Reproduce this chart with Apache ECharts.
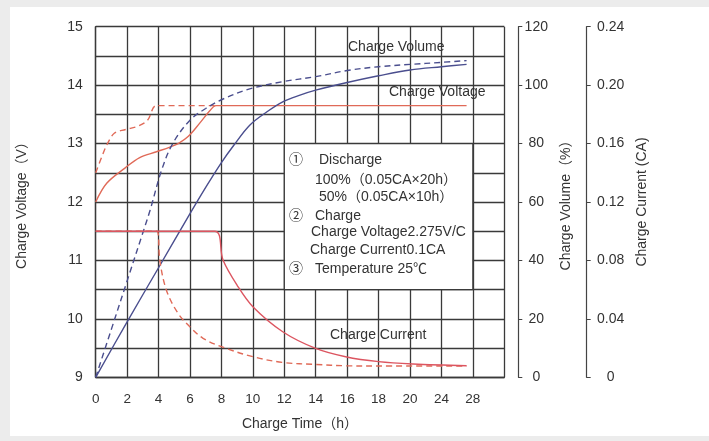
<!DOCTYPE html>
<html>
<head>
<meta charset="utf-8">
<script src="https://cdn.jsdelivr.net/npm/echarts@6/dist/echarts.min.js"></script>
<style>
html,body{margin:0;padding:0;background:#ececec;width:709px;height:441px;overflow:hidden;}
#c{position:absolute;left:10px;top:7px;width:699px;height:429px;background:#fff;}
</style>
</head>
<body>
<div id="c"></div>
<script>
// ---- tick labels ----
const xTickLabels = ['0','2','4','6','8','10','12','14','16','18','20','24','28',''];

// ---- Charge voltage (V) ----
// after 100% discharge (solid)
const voltFullT = [0, 0.7, 1.86, 2.8, 3.87, 4.72, 5.25, 5.88, 6.62, 7.26, 7.65, 9, 23.6];
const voltFull  = [12.0, 12.32, 12.58, 12.76, 12.86, 12.94, 13.0, 13.12, 13.35, 13.56, 13.65, 13.65, 13.65];
// after 50% discharge (dashed)
const voltHalfT = [0, 0.5, 0.75, 1.2, 1.9, 2.7, 3.3, 3.85, 5, 7.65];
const voltHalf  = [12.5, 12.85, 13.0, 13.18, 13.24, 13.3, 13.4, 13.65, 13.65, 13.65];

// ---- Charge volume (%) ----
const volFullT = [0, 2, 4, 6, 7, 8, 8.8, 9.8, 10.9, 11.9, 13, 14, 16, 18, 20, 22, 23.6];
const volFull  = [0, 19, 37.5, 56, 65, 73.5, 79.5, 86.3, 90.9, 94.3, 96.6, 98.3, 100.9, 103.2, 105.2, 106.3, 107.1];
const volHalfT = [0, 1, 2, 3, 3.45, 4.2, 4.9, 6, 7, 8, 9.8, 11.9, 14, 16, 18, 20, 22, 23.6];
const volHalf  = [0, 16.5, 33, 49.5, 57, 71, 80, 88, 92, 95, 98.7, 101.2, 102.9, 105, 106.3, 107.1, 107.8, 108.4];

// ---- Charge current (CA) ----
const curFullT = [0, 7.57, 8.1, 9.0, 10.0, 11.9, 14.0, 15.9, 18.0, 20.2, 23.6];
const curFull  = [0.1, 0.1, 0.0803, 0.063, 0.0483, 0.0312, 0.0198, 0.0141, 0.0107, 0.0091, 0.0079];
const curHalfT = [0, 3.89, 4.08, 4.51, 5.24, 5.99, 6.83, 8.0, 10.0, 11.96, 14.0, 15.94, 18.05, 23.6];
const curHalf  = [0.1, 0.1, 0.0798, 0.0593, 0.0438, 0.0346, 0.0267, 0.021, 0.0141, 0.0101, 0.0088, 0.0079, 0.0077, 0.0077];

// ---- note box range (data units) ----
const noteBoxX = [12, 24];
const noteBoxY = [10.5, 13];

const FONT = "'Liberation Sans', Arial, 'Noto Sans CJK SC', sans-serif";
const TXT = '#333';
const GRIDC = '#3a3a3a';
const RED = '#e06a58';
const REDC = '#dc5560';
const BLUE = '#4a4e8e';

const pairs = (t, v) => t.map((x, i) => [x, v[i]]);

function lineSeries(name, t, v, yIdx, color, dashed, z) {
  return {
    name, type: 'line', xAxisIndex: 0, yAxisIndex: yIdx,
    data: pairs(t, v), showSymbol: false, symbol: 'none',
    smooth: 0.35, z: z || 3,
    lineStyle: { color, width: 1.4, type: dashed ? [6, 4] : 'solid' },
    emphasis: { disabled: true }
  };
}

const chart = echarts.init(document.getElementById('c'), null, { renderer: 'canvas' });

const texts = [
  ['Charge Volume', 338, 40],
  ['Charge Voltage', 379, 85],
  ['Charge Current', 320, 328],
  ['①', 279, 153], ['Discharge', 309, 153],
  ['100%（0.05CA×20h）', 305, 173],
  ['50%（0.05CA×10h）', 309, 190],
  ['②', 279, 209], ['Charge', 305, 209],
  ['Charge Voltage2.275V/C', 301, 225],
  ['Charge Current0.1CA', 300, 243],
  ['③', 279, 262], ['Temperature 25℃', 305, 262]
];

chart.setOption({
  animation: false,
  textStyle: { fontFamily: FONT },
  grid: { left: 85.7, top: 19.7, right: 204.7, bottom: 58.7, containLabel: false, outerBoundsMode: 'none' },
  xAxis: {
    type: 'value', min: 0, max: 26, interval: 2,
    name: 'Charge Time（h）', nameLocation: 'middle', nameGap: 40,
    nameTextStyle: { fontSize: 14, color: TXT, fontFamily: FONT },
    axisLine: { show: true, lineStyle: { color: GRIDC, width: 1.3 } },
    axisTick: { show: false },
    axisLabel: { fontSize: 13.5, color: TXT, margin: 15, fontFamily: FONT,
      formatter: v => xTickLabels[Math.round(v / 2)] },
    splitLine: { show: true, lineStyle: { color: GRIDC, width: 1.3 } }
  },
  yAxis: [
    {
      type: 'value', min: 9, max: 15, interval: 0.5, position: 'left',
      name: 'Charge Voltage（V）', nameLocation: 'middle', nameGap: 67, nameRotate: 90,
      nameTextStyle: { fontSize: 14, color: TXT, fontFamily: FONT },
      axisLine: { show: true, lineStyle: { color: GRIDC, width: 1.3 } },
      axisTick: { show: false },
      axisLabel: { fontSize: 14, color: TXT, margin: 13, fontFamily: FONT,
        formatter: v => (Math.abs(v - Math.round(v)) < 1e-6 ? String(Math.round(v)) : '') },
      splitLine: { show: true, lineStyle: { color: GRIDC, width: 1.3 } }
    },
    {
      type: 'value', min: 0, max: 120, interval: 20, position: 'right', offset: 14,
      name: 'Charge Volume（%）', nameLocation: 'middle', nameGap: 34, nameRotate: 90,
      nameTextStyle: { fontSize: 14, color: TXT, fontFamily: FONT },
      axisLine: { show: true, lineStyle: { color: '#444', width: 1.2 } },
      axisTick: { show: true, length: 4, lineStyle: { color: '#444', width: 1 } },
      axisLabel: { fontSize: 14, color: TXT, margin: 18, align: 'center', fontFamily: FONT },
      splitLine: { show: false }
    },
    {
      type: 'value', min: 0, max: 0.24, interval: 0.04, position: 'right', offset: 82.4,
      name: 'Charge Current (CA)', nameLocation: 'middle', nameGap: 48, nameRotate: 90,
      nameTextStyle: { fontSize: 14, color: TXT, fontFamily: FONT },
      axisLine: { show: true, lineStyle: { color: '#444', width: 1.2 } },
      axisTick: { show: true, length: 4, lineStyle: { color: '#444', width: 1 } },
      axisLabel: { fontSize: 14, color: TXT, margin: 24, align: 'center', fontFamily: FONT,
        formatter: v => (v === 0 ? '0' : v.toFixed(2)) },
      splitLine: { show: false }
    }
  ],
  series: [
    {
      name: 'noteBox', type: 'line', xAxisIndex: 0, yAxisIndex: 0, data: [], z: 1,
      markArea: {
        silent: true,
        itemStyle: { color: '#ffffff', borderColor: GRIDC, borderWidth: 1.3 },
        data: [[{ coord: [noteBoxX[0], noteBoxY[1]] }, { coord: [noteBoxX[1], noteBoxY[0]] }]]
      }
    },
    lineSeries('Voltage 50%', voltHalfT, voltHalf, 0, RED, true),
    lineSeries('Voltage 100%', voltFullT, voltFull, 0, RED, false),
    lineSeries('Volume 50%', volHalfT, volHalf, 1, BLUE, true),
    lineSeries('Volume 100%', volFullT, volFull, 1, BLUE, false),
    lineSeries('Current 50%', curHalfT, curHalf, 2, RED, true),
    lineSeries('Current 100%', curFullT, curFull, 2, REDC, false)
  ],
  graphic: texts.map(([t, x, y]) => ({
    type: 'text', x, y, z: 100, silent: true,
    style: { text: t, fill: TXT, font: '14px ' + FONT, verticalAlign: 'middle', align: 'left' }
  }))
});
</script>
</body>
</html>
